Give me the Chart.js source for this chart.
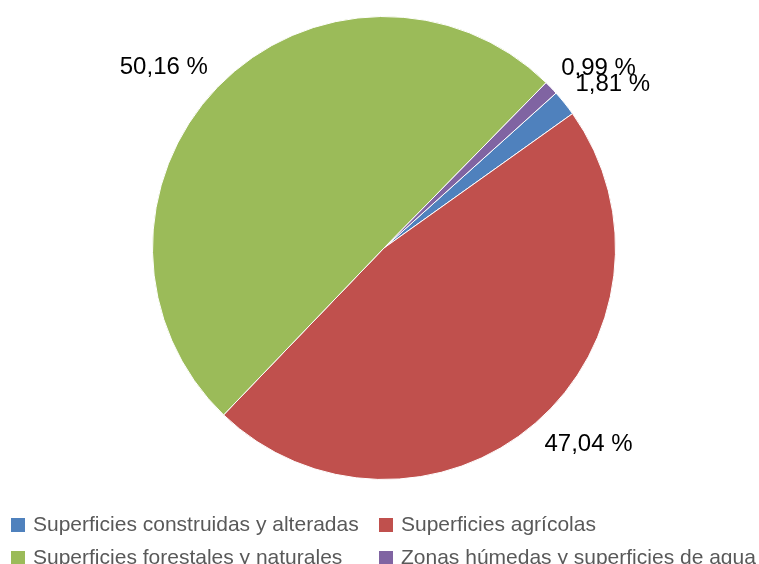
<!DOCTYPE html>
<html>
<head>
<meta charset="utf-8">
<script src="https://cdn.jsdelivr.net/npm/chart.js@4/dist/chart.umd.min.js"></script>
<style>
  html, body { margin: 0; padding: 0; background: #fff; }
  #wrap { width: 759px; height: 564px; }
</style>
</head>
<body>
<div id="wrap"><canvas id="pieChart" width="759" height="564"></canvas></div>
<script>
const categories = [
    'Superficies construidas y alteradas',
    'Superficies agrícolas',
    'Superficies forestales y naturales',
    'Zonas húmedas y superficies de agua'
];
const shares = [1.81, 47.04, 50.16, 0.99];
const sliceColors = ['#4F81BD', '#C0504D', '#9BBB59', '#8064A2'];

const FONT = "'Liberation Sans', Arial, sans-serif";

function pct(v) {
    return v.toFixed(2).replace('.', ',') + ' %';
}

// Percent labels just outside each slice
const outsideLabels = {
    id: 'outsideLabels',
    afterDatasetsDraw(chart) {
        const ctx = chart.ctx;
        const meta = chart.getDatasetMeta(0);
        ctx.save();
        ctx.font = '24px ' + FONT;
        ctx.fillStyle = '#000';
        meta.data.forEach(function (arc, i) {
            const mid = (arc.startAngle + arc.endAngle) / 2;
            const r = arc.outerRadius + 14;
            const x = arc.x + Math.cos(mid) * r;
            const y = arc.y + Math.sin(mid) * r;
            const below = y >= arc.y;
            ctx.textAlign = x >= arc.x ? 'left' : 'right';
            ctx.textBaseline = below ? 'top' : 'bottom';
            ctx.fillText(pct(shares[i]), x, y + (below ? -1 : 2));
        });
        ctx.restore();
    }
};

// Two-column legend under the pie
const gridLegend = {
    id: 'gridLegend',
    afterDraw(chart) {
        const ctx = chart.ctx;
        const cols = [11, 379];
        const rows = [518, 551];
        ctx.save();
        ctx.font = '21px ' + FONT;
        ctx.textAlign = 'left';
        ctx.textBaseline = 'middle';
        chart.data.labels.forEach(function (label, i) {
            const x = cols[i % 2];
            const y = rows[Math.floor(i / 2)];
            ctx.fillStyle = sliceColors[i];
            ctx.fillRect(x, y, 14, 14);
            ctx.fillStyle = '#595959';
            ctx.fillText(label, x + 22, y + 7);
        });
        ctx.restore();
    }
};

new Chart(document.getElementById('pieChart'), {
    type: 'pie',
    data: {
        labels: categories,
        datasets: [{
            data: shares,
            backgroundColor: sliceColors,
            borderColor: '#ffffff',
            borderWidth: 1
        }]
    },
    options: {
        responsive: false,
        animation: false,
        rotation: 48,
        layout: { padding: { left: 9, right: 0, top: 16, bottom: 84 } },
        plugins: {
            legend: { display: false },
            tooltip: { enabled: false }
        }
    },
    plugins: [outsideLabels, gridLegend]
});
</script>
</body>
</html>
